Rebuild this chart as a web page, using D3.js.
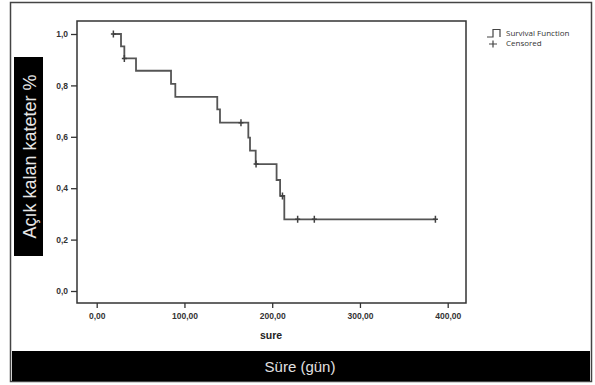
<!DOCTYPE html>
<html>
<head>
<meta charset="utf-8">
<script src="https://cdn.jsdelivr.net/npm/d3@7"></script>
<style>
  html, body { margin: 0; padding: 0; background: #fff; }
  svg { display: block; }
</style>
</head>
<body>
<script>
// Kaplan-Meier survival steps (time in days, survival proportion after the step)
const stepTimes    = [19, 27.7, 31.5, 44.8, 84.7, 89.6, 137.4, 140.5, 172.8, 174.7, 181.2, 205, 209, 213.8, 386];
const stepSurvival = [1.0, 0.952, 0.905, 0.857, 0.806, 0.755, 0.707, 0.655, 0.597, 0.546, 0.494, 0.432, 0.370, 0.279, 0.279];
// Censored observations
const censorTimes    = [19, 31.5, 164.4, 181.6, 211.7, 229, 248, 386];
const censorSurvival = [1.0, 0.905, 0.655, 0.494, 0.370, 0.279, 0.279, 0.279];
// Tick labels
const xTickValues = [0, 100, 200, 300, 400];
const xTickLabels = ["0,00", "100,00", "200,00", "300,00", "400,00"];
const yTickValues = [0, 0.2, 0.4, 0.6, 0.8, 1.0];
const yTickLabels = ["0,0", "0,2", "0,4", "0,6", "0,8", "1,0"];
const legendLabels = ["Survival Function", "Censored"];
const xAxisTitle = "sure";
const xBarTitle = "Süre (gün)";
const yBarTitle = "Açık kalan kateter %";

const W = 595, H = 385;
const svg = d3.select("body").append("svg").attr("width", W).attr("height", H);
const font = "'Liberation Sans', Arial, sans-serif";

// outer border
svg.append("rect").attr("x", 10.5).attr("y", 2.5).attr("width", 581).attr("height", 379)
  .attr("fill", "#fff").attr("stroke", "#444").attr("stroke-width", 1.5);

// plot frame
const frame = {x0: 77, y0: 21, x1: 466, y1: 303};
const x = d3.scaleLinear().domain([0, 400]).range([96.7, 447.7]);
const y = d3.scaleLinear().domain([0, 1]).range([291, 34]);

svg.append("rect").attr("x", frame.x0).attr("y", frame.y0)
  .attr("width", frame.x1 - frame.x0).attr("height", frame.y1 - frame.y0)
  .attr("fill", "none").attr("stroke", "#333").attr("stroke-width", 1.5);

// y axis
const yAxis = d3.axisLeft(y).tickValues(yTickValues).tickSize(6).tickPadding(3)
  .tickFormat((d, i) => yTickLabels[i]);
const gy = svg.append("g").attr("transform", `translate(${frame.x0},0)`).call(yAxis);
gy.select(".domain").remove();
gy.selectAll("line").attr("stroke", "#333").attr("stroke-width", 1.3);
gy.selectAll("text").attr("font-family", font).attr("font-size", 8.5).attr("font-weight", "bold").attr("fill", "#333");

// x axis
const xAxis = d3.axisBottom(x).tickValues(xTickValues).tickSize(5).tickPadding(5)
  .tickFormat((d, i) => xTickLabels[i]);
const gx = svg.append("g").attr("transform", `translate(0,${frame.y1})`).call(xAxis);
gx.select(".domain").remove();
gx.selectAll("line").attr("stroke", "#333").attr("stroke-width", 1.3);
gx.selectAll("text").attr("font-family", font).attr("font-size", 8.5).attr("font-weight", "bold").attr("fill", "#333");

svg.append("text").attr("x", 271).attr("y", 339).attr("text-anchor", "middle")
  .attr("font-family", font).attr("font-size", 10.5).attr("font-weight", "bold").attr("fill", "#222")
  .text(xAxisTitle);

// survival step line
const pts = stepTimes.map((t, i) => [t, stepSurvival[i]]);
const line = d3.line().x(d => x(d[0])).y(d => y(d[1])).curve(d3.curveStepAfter);
svg.append("path").attr("d", line(pts)).attr("fill", "none")
  .attr("stroke", "#555").attr("stroke-width", 1.8);

// censor marks
svg.append("g").selectAll("path").data(censorTimes.map((t, i) => [t, censorSurvival[i]]))
  .join("path")
  .attr("d", d => `M${x(d[0])},${y(d[1]) - 3.5}V${y(d[1]) + 3.5}M${x(d[0]) - 2.5},${y(d[1])}H${x(d[0]) + 2.5}`)
  .attr("stroke", "#404040").attr("stroke-width", 1.5).attr("fill", "none");

// legend
const lg = svg.append("g");
lg.append("path").attr("d", "M487,37H493V29.5H500V37")
  .attr("fill", "none").attr("stroke", "#444").attr("stroke-width", 1.2);
lg.append("path").attr("d", "M493,40.5V47.5M489,44H497")
  .attr("fill", "none").attr("stroke", "#444").attr("stroke-width", 1.2);
lg.selectAll("text").data(legendLabels).join("text")
  .attr("x", 506).attr("y", (d, i) => 36 + i * 10)
  .attr("font-family", "'Open Sans', 'DejaVu Sans', sans-serif").attr("font-size", 8)
  .attr("fill", "#333").text(d => d);

// y title black box
svg.append("rect").attr("x", 14).attr("y", 57).attr("width", 29).attr("height", 199).attr("fill", "#000");
svg.append("text").attr("transform", `translate(35.5,156.5) rotate(-90)`)
  .attr("text-anchor", "middle").attr("font-family", font).attr("font-size", 18)
  .attr("fill", "#e6e6e6").text(yBarTitle);

// x title black bar
svg.append("rect").attr("x", 12).attr("y", 351).attr("width", 578).attr("height", 30).attr("fill", "#000");
svg.append("text").attr("x", 300).attr("y", 372).attr("text-anchor", "middle")
  .attr("font-family", font).attr("font-size", 15).attr("fill", "#e0e0e0").text(xBarTitle);
</script>
</body>
</html>
